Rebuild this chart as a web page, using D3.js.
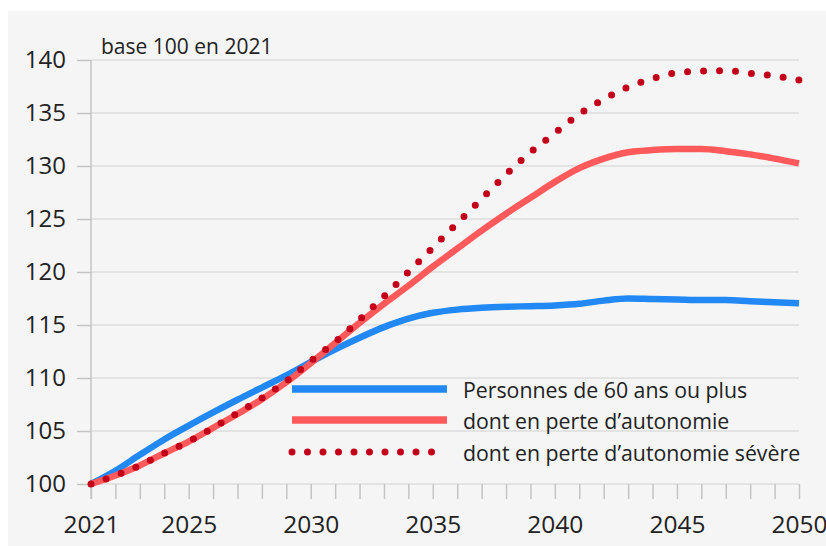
<!DOCTYPE html>
<html>
<head>
<meta charset="utf-8">
<script src="https://cdn.jsdelivr.net/npm/d3@7"></script>
<style>
  html, body { margin: 0; padding: 0; background: #ffffff; }
  svg { display: block; }
  text { font-family: "Open Sans", "Noto Sans", sans-serif; fill: #222; }
</style>
</head>
<body>
<svg id="chart" width="826" height="546"></svg>
<script>
// ---- data ----
const years = d3.range(2021, 2051);
const seniors = [100, 101.25, 102.75, 104.2, 105.5, 106.75, 107.95, 109.1, 110.25, 111.5,
  112.7, 113.8, 114.8, 115.6, 116.15, 116.45, 116.62, 116.72, 116.78, 116.85,
  117.0, 117.3, 117.5, 117.45, 117.4, 117.35, 117.35, 117.25, 117.15, 117.05];
const dependent = [100, 100.8, 101.75, 102.9, 104.0, 105.3, 106.6, 108.0, 109.6, 111.4,
  113.3, 115.2, 117.0, 118.7, 120.5, 122.2, 123.9, 125.5, 127.0, 128.5,
  129.8, 130.7, 131.3, 131.5, 131.6, 131.6, 131.4, 131.1, 130.7, 130.25];
const severe = [100, 100.8, 101.75, 102.9, 104.0, 105.3, 106.7, 108.1, 109.7, 111.6,
  113.4, 115.5, 117.7, 120.0, 122.3, 124.6, 126.9, 129.2, 131.3, 133.1,
  134.9, 136.3, 137.45, 138.25, 138.8, 138.95, 139.0, 138.75, 138.5, 138.1];
const seriesNames = ["Personnes de 60 ans ou plus", "dont en perte d\u2019autonomie", "dont en perte d\u2019autonomie s\u00e9v\u00e8re"];
const yTicks = [100, 105, 110, 115, 120, 125, 130, 135, 140];
const xLabelTicks = [2021, 2025, 2030, 2035, 2040, 2045, 2050];
const unitLabel = "base 100 en 2021";

// ---- drawing ----
const svg = d3.select("#chart");
svg.append("rect").attr("x", 8).attr("y", 11).attr("width", 818).attr("height", 535).attr("fill", "#f5f5f5");

const x = d3.scaleLinear().domain([2021, 2050]).range([91, 799]);
const y = d3.scaleLinear().domain([100, 140]).range([484, 60]);

// gridlines
svg.append("g").selectAll("line").data(yTicks).join("line")
  .attr("x1", x(2021)).attr("x2", x(2050))
  .attr("y1", d => y(d)).attr("y2", d => y(d))
  .attr("stroke", "#dcdcdc").attr("stroke-width", 1.5);

// y axis
const yAxis = svg.append("g").attr("transform", `translate(${x(2021)},0)`)
  .call(d3.axisLeft(y).tickValues(yTicks).tickSize(14).tickPadding(11).tickFormat(d3.format("d")));
yAxis.select(".domain").remove();
yAxis.append("line").attr("x1", 0).attr("x2", 0).attr("y1", y(140)).attr("y2", y(100) + 15)
  .attr("stroke", "#c4c4c4").attr("stroke-width", 1.5);
yAxis.selectAll(".tick line").attr("stroke", "#c4c4c4").attr("stroke-width", 1.5);
yAxis.selectAll(".tick text").attr("font-size", 24).attr("fill", "#222").attr("font-family", "Open Sans");

// x axis
const xAxis = svg.append("g").attr("transform", `translate(0,${y(100)})`)
  .call(d3.axisBottom(x).tickValues(years).tickSize(15).tickPadding(17)
    .tickFormat(d => xLabelTicks.includes(d) ? String(d) : ""));
xAxis.select(".domain").remove();
xAxis.selectAll(".tick line").attr("stroke", "#c4c4c4").attr("stroke-width", 1.5);
xAxis.selectAll(".tick text").attr("font-size", 24.5).attr("fill", "#222").attr("font-family", "Open Sans");

// unit label
svg.append("text").attr("x", 101).attr("y", 54).attr("font-size", 21).text(unitLabel);

// lines
const line = d3.line().x((d, i) => x(years[i])).y(d => y(d)).curve(d3.curveMonotoneX);
const styles = [
  { data: seniors, color: "#2288f4", width: 6.5, dash: null, cap: "butt" },
  { data: dependent, color: "#fe5a5c", width: 6.5, dash: null, cap: "butt" },
  { data: severe, color: "#c3001a", width: 7, dash: "0 16", cap: "round" }
];
styles.forEach(s => {
  svg.append("path").attr("d", line(s.data)).attr("fill", "none")
    .attr("stroke", s.color).attr("stroke-width", s.width)
    .attr("stroke-linecap", s.cap).attr("stroke-linejoin", "round")
    .attr("stroke-dasharray", s.dash);
});

// legend
const legendY = [389, 420, 452];
styles.forEach((s, i) => {
  svg.append("line").attr("x1", 292).attr("x2", 447)
    .attr("y1", legendY[i]).attr("y2", legendY[i])
    .attr("stroke", s.color).attr("stroke-width", s.dash ? 7 : 7.5)
    .attr("stroke-linecap", s.cap).attr("stroke-dasharray", s.dash ? "0 15.5" : null);
  svg.append("text").attr("x", 463).attr("y", legendY[i] + 9).attr("font-size", 21.3)
    .text(seriesNames[i]);
});
</script>
</body>
</html>
